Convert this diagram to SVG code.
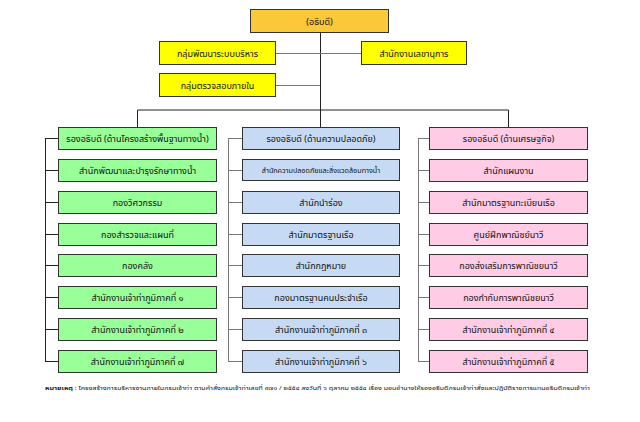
<svg xmlns="http://www.w3.org/2000/svg" width="640" height="422" viewBox="0 0 640 422">
<style>
.bx{stroke:#333;stroke-width:1}
.g{fill:#99FF99}.b{fill:#C6DBF3}.p{fill:#FFCCE5}.y{fill:#FFFF00}.o{fill:#FBC83A}
text{font-family:"Noto Sans Thai","Noto Sans","DejaVu Sans",sans-serif;font-size:9px;fill:#111;text-anchor:middle}
.s{font-size:7.2px}
.ln{stroke:#222;stroke-width:1;fill:none}
.lg{stroke:#777;stroke-width:1;fill:none}
.fn{font-size:6px;text-anchor:start}
</style>
<rect width="640" height="422" fill="#fff"/>
<g id="connectors">
<path class="ln" d="M320.5 32V110M137.5 110H508.5M137.5 110V127M320.5 110V127M508.5 110V127"/>
<path class="lg" d="M275 53.5H361M275 85.5H320"/>
<path class="ln" d="M45.5 138V362M45.5 138.5H58M45.5 170.5H58M45.5 202.5H58M45.5 234.5H58M45.5 265.5H58M45.5 297.5H58M45.5 329.5H58M45.5 361.5H58"/>
<path class="lg" d="M228.5 138V362M228.5 138.5H242M228.5 170.5H242M228.5 202.5H242M228.5 234.5H242M228.5 265.5H242M228.5 297.5H242M228.5 329.5H242M228.5 361.5H242"/>
<path class="lg" d="M418.5 138V362M418.5 138.5H429M418.5 170.5H429M418.5 202.5H429M418.5 234.5H429M418.5 265.5H429M418.5 297.5H429M418.5 329.5H429M418.5 361.5H429"/>
</g>
<g id="director"><rect class="bx o" x="250.5" y="9.5" width="138" height="23"/><text x="319.5" y="24.5">(อธิบดี)</text></g>
<g id="admin-dev"><rect class="bx y" x="159.5" y="41.5" width="116" height="23"/><text x="217.5" y="56.5">กลุ่มพัฒนาระบบบริหาร</text></g>
<g id="secretary"><rect class="bx y" x="361.5" y="41.5" width="105" height="23"/><text x="414" y="56.5">สำนักงานเลขานุการ</text></g>
<g id="audit"><rect class="bx y" x="159.5" y="73.5" width="116" height="23"/><text x="217.5" y="88.5">กลุ่มตรวจสอบภายใน</text></g>

<g id="dep-infra"><rect class="bx g" x="58.5" y="127.5" width="158" height="22"/><text x="137.5" y="142">รองอธิบดี (ด้านโครงสร้างพื้นฐานทางน้ำ)</text></g>
<g id="l2"><rect class="bx g" x="58.5" y="159.5" width="158" height="22"/><text x="137.5" y="174">สำนักพัฒนาและบำรุงรักษาทางน้ำ</text></g>
<g id="l3"><rect class="bx g" x="58.5" y="191.5" width="158" height="22"/><text x="137.5" y="206">กองวิศวกรรม</text></g>
<g id="l4"><rect class="bx g" x="58.5" y="223.5" width="158" height="22"/><text x="137.5" y="238">กองสำรวจและแผนที่</text></g>
<g id="l5"><rect class="bx g" x="58.5" y="254.5" width="158" height="22"/><text x="137.5" y="269">กองคลัง</text></g>
<g id="l6"><rect class="bx g" x="58.5" y="286.5" width="158" height="22"/><text x="137.5" y="301">สำนักงานเจ้าท่าภูมิภาคที่ ๑</text></g>
<g id="l7"><rect class="bx g" x="58.5" y="318.5" width="158" height="22"/><text x="137.5" y="333">สำนักงานเจ้าท่าภูมิภาคที่ ๒</text></g>
<g id="l8"><rect class="bx g" x="58.5" y="350.5" width="158" height="22"/><text x="137.5" y="365">สำนักงานเจ้าท่าภูมิภาคที่ ๗</text></g>

<g id="dep-safety"><rect class="bx b" x="242.5" y="127.5" width="157" height="22"/><text x="321" y="142">รองอธิบดี (ด้านความปลอดภัย)</text></g>
<g id="m2"><rect class="bx b" x="242.5" y="159.5" width="157" height="21"/><text class="s" x="321" y="173">สำนักความปลอดภัยและสิ่งแวดล้อมทางน้ำ</text></g>
<g id="m3"><rect class="bx b" x="242.5" y="191.5" width="157" height="22"/><text x="321" y="206">สำนักนำร่อง</text></g>
<g id="m4"><rect class="bx b" x="242.5" y="223.5" width="157" height="22"/><text x="321" y="238">สำนักมาตรฐานเรือ</text></g>
<g id="m5"><rect class="bx b" x="242.5" y="254.5" width="157" height="22"/><text x="321" y="269">สำนักกฎหมาย</text></g>
<g id="m6"><rect class="bx b" x="242.5" y="286.5" width="157" height="22"/><text x="321" y="301">กองมาตรฐานคนประจำเรือ</text></g>
<g id="m7"><rect class="bx b" x="242.5" y="318.5" width="157" height="22"/><text x="321" y="333">สำนักงานเจ้าท่าภูมิภาคที่ ๓</text></g>
<g id="m8"><rect class="bx b" x="242.5" y="350.5" width="157" height="22"/><text x="321" y="365">สำนักงานเจ้าท่าภูมิภาคที่ ๖</text></g>

<g id="dep-econ"><rect class="bx p" x="429.5" y="127.5" width="158" height="22"/><text x="508.5" y="142">รองอธิบดี (ด้านเศรษฐกิจ)</text></g>
<g id="r2"><rect class="bx p" x="429.5" y="159.5" width="158" height="22"/><text x="508.5" y="174">สำนักแผนงาน</text></g>
<g id="r3"><rect class="bx p" x="429.5" y="191.5" width="158" height="22"/><text x="508.5" y="206">สำนักมาตรฐานทะเบียนเรือ</text></g>
<g id="r4"><rect class="bx p" x="429.5" y="223.5" width="158" height="22"/><text x="508.5" y="238">ศูนย์ฝึกพาณิชย์นาวี</text></g>
<g id="r5"><rect class="bx p" x="429.5" y="254.5" width="158" height="22"/><text x="508.5" y="269">กองส่งเสริมการพาณิชยนาวี</text></g>
<g id="r6"><rect class="bx p" x="429.5" y="286.5" width="158" height="22"/><text x="508.5" y="301">กองกำกับการพาณิชยนาวี</text></g>
<g id="r7"><rect class="bx p" x="429.5" y="318.5" width="158" height="22"/><text x="508.5" y="333">สำนักงานเจ้าท่าภูมิภาคที่ ๔</text></g>
<g id="r8"><rect class="bx p" x="429.5" y="350.5" width="158" height="22"/><text x="508.5" y="365">สำนักงานเจ้าท่าภูมิภาคที่ ๕</text></g>

<text class="fn" x="45" y="390" textLength="545" lengthAdjust="spacingAndGlyphs"><tspan font-weight="bold">หมายเหตุ</tspan> : โครงสร้างการบริหารงานภายในกรมเจ้าท่า ตามคำสั่งกรมเจ้าท่าเลขที่ ๙๗๑ / ๒๕๕๔ ลงวันที่ ๖ ตุลาคม ๒๕๕๔ เรื่อง มอบอำนาจให้รองอธิบดีกรมเจ้าท่าสั่งและปฏิบัติราชการแทนอธิบดีกรมเจ้าท่า</text>
</svg>
